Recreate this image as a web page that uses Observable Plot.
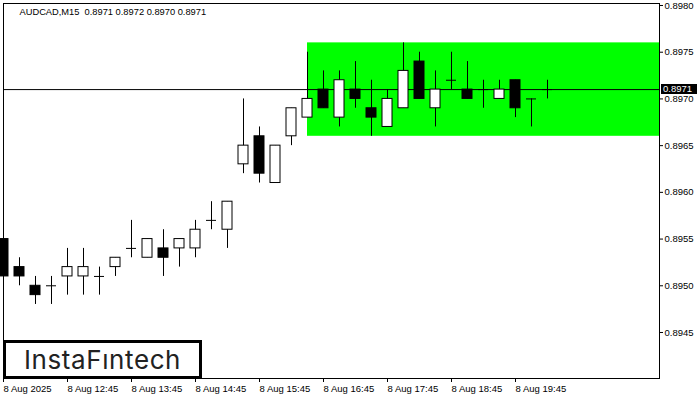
<!DOCTYPE html>
<html><head><meta charset="utf-8">
<script src="https://cdn.jsdelivr.net/npm/d3@7"></script>
<script src="https://cdn.jsdelivr.net/npm/@observablehq/plot@0.6"></script>
<style>
body{margin:0;background:#fff;}
#wrap{position:relative;width:700px;height:400px;overflow:hidden;background:#fff;}
#price{position:absolute;background:#000;color:#fff;font:9.5px "Liberation Sans",sans-serif;line-height:10px;height:10px;padding:0 0 0 2px;width:34px;box-sizing:content-box;}
#logo{position:absolute;box-sizing:border-box;border:3px solid #000;background:#fff;color:#222;font:400 26px Inter,sans-serif;display:flex;align-items:center;justify-content:center;letter-spacing:0.6px;}
</style></head><body><div id="wrap"></div>
<script>
const symbol = "AUDCAD,M15";
const lastOHLC = [0.8971, 0.8972, 0.8970, 0.8971];
const opens  = [0.8955,0.8952,0.8950,0.8950,0.8951,0.8951,0.8951,0.8952,0.8954,0.8953,0.8954,0.8954,0.8954,0.8957,0.8956,0.8963,0.8966,0.8961,0.8966,0.8968,0.8971,0.8968,0.8971,0.8969,0.8967,0.8969,0.8974,0.8969,0.8972,0.8971,0.8971,0.8970,0.8972,0.8970,0.8971];
const highs  = [0.8955,0.8953,0.8951,0.8951,0.8954,0.8954,0.8952,0.8953,0.8957,0.8955,0.8956,0.8955,0.8957,0.8959,0.8959,0.8970,0.8967,0.8965,0.8969,0.8975,0.8973,0.8973,0.8974,0.8972,0.8971,0.8976,0.8975,0.8973,0.8975,0.8974,0.8972,0.8972,0.8972,0.8970,0.8972];
const lows   = [0.8949,0.8950,0.8948,0.8948,0.8949,0.8949,0.8949,0.8951,0.8953,0.8953,0.8951,0.8952,0.8953,0.8956,0.8954,0.8962,0.8961,0.8961,0.8965,0.8968,0.8969,0.8967,0.8969,0.8966,0.8967,0.8969,0.8970,0.8967,0.8971,0.8970,0.8969,0.8970,0.8968,0.8967,0.8970];
const closes = [0.8951,0.8951,0.8949,0.8950,0.8952,0.8952,0.8951,0.8953,0.8954,0.8955,0.8953,0.8955,0.8956,0.8957,0.8959,0.8965,0.8962,0.8965,0.8969,0.8970,0.8969,0.8972,0.8970,0.8968,0.8970,0.8973,0.8970,0.8971,0.8972,0.8970,0.8971,0.8971,0.8969,0.8970,0.8971];
const xTickIndex = [0,4,8,12,16,20,24,28,32];
const xTickLabels = ["8 Aug 2025","8 Aug 12:45","8 Aug 13:45","8 Aug 14:45","8 Aug 15:45","8 Aug 16:45","8 Aug 17:45","8 Aug 18:45","8 Aug 19:45"];
const yTicks = [0.8945,0.8950,0.8955,0.8960,0.8965,0.8970,0.8975,0.8980];
const patternStart = 19;
const patternTop = 0.8976;
const patternBottom = 0.8966;
const xDomain = [0, 41];
const yDomain = [0.8940076, 0.8980214];
const brand = "InstaF\u0131ntech";

const candles = opens.map((o,i)=>({i, open:o, high:highs[i], low:lows[i], close:closes[i]}));
const bw = 5/16;
const title = `${symbol}\u00a0\u00a0${lastOHLC.map(d=>d.toFixed(4)).join(" ")}`;

const chart = Plot.plot({
  width:700, height:400,
  marginLeft:3, marginRight:41, marginTop:3, marginBottom:22,
  style:{fontFamily:"'Liberation Sans', sans-serif", fontSize:"9.5px", background:"#fff", color:"#000", overflow:"visible"},
  x:{domain:xDomain},
  y:{domain:yDomain},
  marks:[
    Plot.rect([{x1:patternStart, x2:xDomain[1], y1:patternBottom, y2:patternTop}], {x1:"x1", x2:"x2", y1:"y1", y2:"y2", fill:"#00ff00"}),
    Plot.ruleY([lastOHLC[3]], {stroke:"#000"}),
    Plot.ruleX(candles, {x:"i", y1:"low", y2:"high", stroke:"#000"}),
    Plot.rect(candles.filter(d=>d.open!==d.close), {x1:d=>d.i-bw, x2:d=>d.i+bw, y1:"open", y2:"close", fill:d=>d.close>d.open?"#ffffff":"#000000", stroke:"#000"}),
    Plot.ruleY(candles.filter(d=>d.open===d.close), {x1:d=>d.i-bw, x2:d=>d.i+bw, y:"open", stroke:"#000"}),
    Plot.frame({stroke:"#000"}),
    Plot.axisY({anchor:"right", ticks:yTicks, tickFormat:d3.format(".4f"), tickSize:3, tickPadding:2, label:null}),
    Plot.axisX({anchor:"bottom", ticks:xTickIndex, tickFormat:d=>xTickLabels[xTickIndex.indexOf(d)], tickSize:4, tickPadding:3, textAnchor:"start", label:null}),
    Plot.text([title], {text:d=>d, frameAnchor:"top-left", dx:16, dy:5, textAnchor:"start", lineAnchor:"top", fill:"#000", fontSize:9.3})
  ]
});
const wrap = document.getElementById("wrap");
wrap.appendChild(chart);

const ys = chart.scale("y"), xs = chart.scale("x");
const price = document.createElement("div");
price.id = "price";
price.textContent = lastOHLC[3].toFixed(4);
price.style.left = (xs.range[1] + 2) + "px";
price.style.top = (ys.apply(lastOHLC[3]) - 5) + "px";
wrap.appendChild(price);

const logo = document.createElement("div");
logo.id = "logo";
logo.textContent = brand;
logo.style.left = xs.range[0] + "px";
logo.style.top = "340px";
logo.style.width = "199px";
logo.style.height = (ys.range[0] - 340 + 1) + "px";
wrap.appendChild(logo);
</script></body></html>
